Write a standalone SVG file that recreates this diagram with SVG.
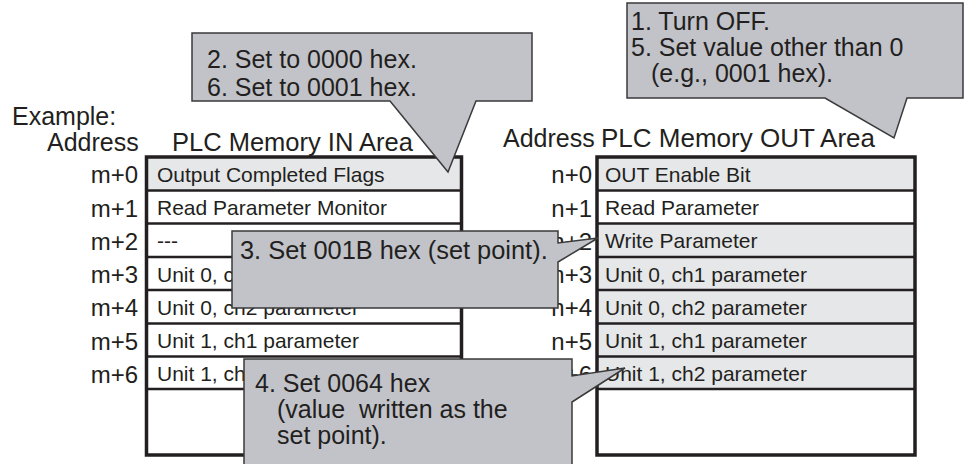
<svg xmlns="http://www.w3.org/2000/svg" width="964" height="464" viewBox="0 0 964 464">
<style>
text{font-family:"Liberation Sans",Arial,Helvetica,sans-serif;fill:#231f20}
.hd{font-size:25px}
.addr{font-size:24px;text-anchor:end}
.row{font-size:21px}
.call{font-size:25px;white-space:pre}
.callout{fill:#c1c3c9;stroke:#3a3a3a;stroke-width:1.5;stroke-linejoin:miter}
.shade{fill:#e6e7e9}
.white{fill:#ffffff}
.sep{stroke:#231f20;stroke-width:2.5}
.frame{fill:none;stroke:#231f20;stroke-width:3.5}
</style>
<rect width="964" height="464" fill="#ffffff"/>

<g id="headers">
<text class="hd" x="12" y="125">Example:</text>
<text class="hd" x="47" y="151">Address</text>
<text class="hd" x="172" y="151" style="font-size:25.5px">PLC Memory IN Area</text>
<text class="hd" x="503" y="147">Address</text>
<text class="hd" x="601" y="147" style="font-size:26px">PLC Memory OUT Area</text>
</g>

<g id="in-area">
<rect class="white" x="146.5" y="157" width="315" height="298"/>
<rect class="shade" x="146.5" y="157" width="315" height="33.5"/>
<line class="sep" x1="146.5" y1="190.5" x2="461.5" y2="190.5"/>
<line class="sep" x1="146.5" y1="223.5" x2="461.5" y2="223.5"/>
<line class="sep" x1="146.5" y1="257" x2="461.5" y2="257"/>
<line class="sep" x1="146.5" y1="290" x2="461.5" y2="290"/>
<line class="sep" x1="146.5" y1="323.5" x2="461.5" y2="323.5"/>
<line class="sep" x1="146.5" y1="356.5" x2="461.5" y2="356.5"/>
<line class="sep" x1="146.5" y1="389" x2="461.5" y2="389"/>
<rect class="frame" x="146.5" y="157" width="315" height="298"/>
<text class="row" x="157" y="182">Output Completed Flags</text>
<text class="row" x="157" y="215">Read Parameter Monitor</text>
<text class="row" x="157" y="248">---</text>
<text class="row" x="157" y="281.5">Unit 0, ch1 parameter</text>
<text class="row" x="157" y="314.5">Unit 0, ch2 parameter</text>
<text class="row" x="157" y="348">Unit 1, ch1 parameter</text>
<text class="row" x="157" y="381">Unit 1, ch2 parameter</text>
<text class="addr" x="138" y="183">m+0</text>
<text class="addr" x="138" y="216.5">m+1</text>
<text class="addr" x="138" y="249.5">m+2</text>
<text class="addr" x="138" y="283">m+3</text>
<text class="addr" x="138" y="316">m+4</text>
<text class="addr" x="138" y="349.5">m+5</text>
<text class="addr" x="138" y="382.5">m+6</text>
</g>

<g id="out-area">
<rect class="white" x="597" y="157" width="318" height="298"/>
<rect class="shade" x="597" y="157" width="318" height="33.5"/>
<rect class="shade" x="597" y="223.5" width="318" height="165.5"/>
<line class="sep" x1="597" y1="190.5" x2="915" y2="190.5"/>
<line class="sep" x1="597" y1="223.5" x2="915" y2="223.5"/>
<line class="sep" x1="597" y1="257" x2="915" y2="257"/>
<line class="sep" x1="597" y1="290" x2="915" y2="290"/>
<line class="sep" x1="597" y1="323.5" x2="915" y2="323.5"/>
<line class="sep" x1="597" y1="356.5" x2="915" y2="356.5"/>
<line class="sep" x1="597" y1="389" x2="915" y2="389"/>
<rect class="frame" x="597" y="157" width="318" height="298"/>
<text class="row" x="605" y="182">OUT Enable Bit</text>
<text class="row" x="605" y="215">Read Parameter</text>
<text class="row" x="605" y="248">Write Parameter</text>
<text class="row" x="605" y="281.5">Unit 0, ch1 parameter</text>
<text class="row" x="605" y="314.5">Unit 0, ch2 parameter</text>
<text class="row" x="605" y="348">Unit 1, ch1 parameter</text>
<text class="row" x="605" y="381">Unit 1, ch2 parameter</text>
<text class="addr" x="592" y="183">n+0</text>
<text class="addr" x="592" y="216.5">n+1</text>
<text class="addr" x="592" y="249.5">n+2</text>
<text class="addr" x="592" y="283">n+3</text>
<text class="addr" x="592" y="316">n+4</text>
<text class="addr" x="592" y="349.5">n+5</text>
<text class="addr" x="592" y="382.5">n+6</text>
</g>

<g id="callout-2">
<polygon class="callout" points="192,33 532,33 532,101 476,101 448,172 390,101 192,101"/>
<text class="call" x="207" y="68">2. Set to 0000 hex.</text>
<text class="call" x="207" y="96">6. Set to 0001 hex.</text>
</g>

<g id="callout-1">
<polygon class="callout" points="627,3 963,3 963,98 907,98 894,138 825,98 627,98"/>
<text class="call" x="631" y="30">1. Turn OFF.</text>
<text class="call" x="631" y="56">5. Set value other than 0</text>
<text class="call" x="651" y="82">(e.g., 0001 hex).</text>
</g>

<g id="callout-3">
<polygon class="callout" points="232,231 558,231 558,243 598,238 558,262 558,308 232,308"/>
<text class="call" x="240" y="259" style="font-size:25.4px">3. Set 001B hex (set point).</text>
</g>

<g id="callout-4">
<polygon class="callout" points="244,359 572,359 572,376 625,368 572,402 572,470 244,470"/>
<text class="call" x="255" y="392">4. Set 0064 hex</text>
<text class="call" x="277" y="418">(value  written as the</text>
<text class="call" x="277" y="444">set point).</text>
</g>
</svg>
